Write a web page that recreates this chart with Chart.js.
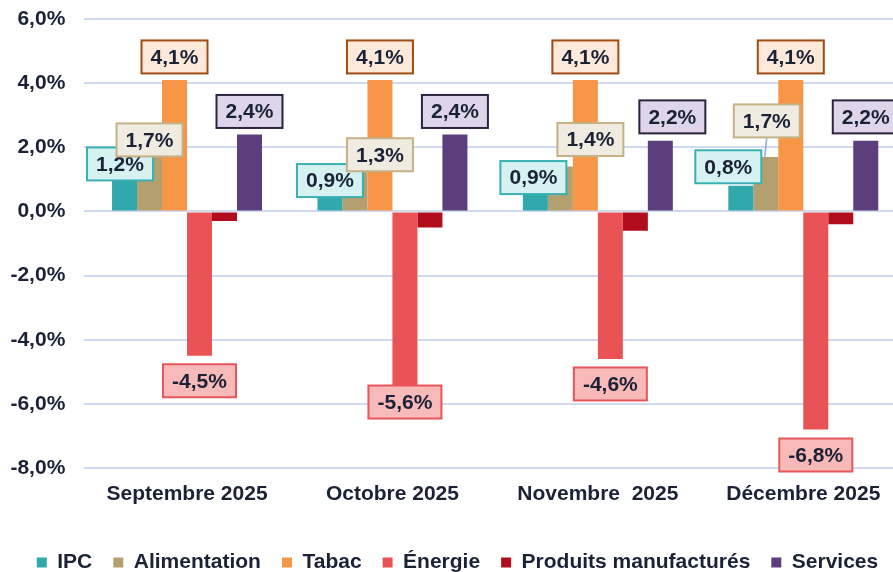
<!DOCTYPE html>
<html>
<head>
<meta charset="utf-8">
<script src="https://cdn.jsdelivr.net/npm/chart.js@4.4.0/dist/chart.umd.min.js"></script>
<style>
html, body { margin: 0; padding: 0; overflow: hidden; background: #FFFFFF; }
#wrap { width: 906px; height: 583px; }
</style>
</head>
<body>
<div id="wrap"><canvas id="inflationChart" width="906" height="583"></canvas></div>
<script>
const FONT_COLOR = '#1B2236';
const GRID_COLOR = '#CFD9F0';
const FONT_FAMILY = '"Liberation Sans", Arial, sans-serif';

// données
const months = ['Septembre 2025', 'Octobre 2025', 'Novembre  2025', 'Décembre 2025'];
const seriesNames = ['IPC', 'Alimentation', 'Tabac', 'Énergie', 'Produits manufacturés', 'Services'];
const ipc = [1.2, 0.9, 0.9, 0.8];
const alimentation = [1.7, 1.3, 1.4, 1.7];
const tabac = [4.1, 4.1, 4.1, 4.1];
const energie = [-4.5, -5.6, -4.6, -6.8];
const produits = [-0.3, -0.5, -0.6, -0.4];
const services = [2.4, 2.4, 2.2, 2.2];
const yTicks = [-8, -6, -4, -2, 0, 2, 4, 6];

// styles des séries
const barColors = ['#31A8AC', '#B4A06E', '#F79646', '#EA5355', '#B00C1C', '#5B3E7B'];
const labelFills = ['#D5F1F2', '#EFEBE1', '#FDE9DA', '#F8B9B9', null, '#DED5EA'];
const labelBorders = ['#3BB0B2', '#C4B185', '#9E4C14', '#E8555A', null, '#2D2340'];

// décalage (dx, dy) du centre de l'étiquette par rapport au bout de la barre
const labelOffsets = [
    [[-4.5, -9], [0, -2], [-2, -5], [-12.5, -19]],
    [[0, -17], [25, -15], [30, -27], [1, -36]],
    [[0, -23], [0, -23], [0, -23], [0, -23]],
    [[0, 25], [0, 11], [0, 25], [0, 25.5]],
    null,
    [[0, -23], [0, -23], [12, -24], [0, -24]]
];

function formatPct(v) {
    return v.toFixed(1).replace('.', ',') + '%';
}

const boxLabels = {
    id: 'boxLabels',
    afterDatasetsDraw(chart) {
        const ctx = chart.ctx;
        ctx.save();
        ctx.font = 'bold 21px ' + FONT_FAMILY;
        ctx.textAlign = 'center';
        ctx.textBaseline = 'middle';
        chart.data.datasets.forEach((ds, i) => {
            const offsets = labelOffsets[i];
            if (!offsets) return;
            chart.getDatasetMeta(i).data.forEach((bar, j) => {
                const text = formatPct(ds.data[j]);
                const w = Math.round(ctx.measureText(text).width + 18);
                const h = 33;
                const cx = bar.x + offsets[j][0];
                const cy = bar.y + offsets[j][1];
                // ligne de rappel quand l'étiquette est éloignée
                if (ds.data[j] > 0 && bar.y - (cy + h / 2) > 15) {
                    ctx.beginPath();
                    ctx.moveTo(cx, cy + h / 2);
                    ctx.lineTo(bar.x - 1, bar.y);
                    ctx.strokeStyle = '#8EAADB';
                    ctx.lineWidth = 1.5;
                    ctx.stroke();
                }
                ctx.fillStyle = labelFills[i];
                ctx.fillRect(cx - w / 2, cy - h / 2, w, h);
                ctx.lineWidth = 2;
                ctx.strokeStyle = labelBorders[i];
                ctx.strokeRect(cx - w / 2, cy - h / 2, w, h);
                ctx.fillStyle = FONT_COLOR;
                ctx.fillText(text, cx, cy + 1);
            });
        });
        ctx.restore();
    }
};

const seriesValues = [ipc, alimentation, tabac, energie, produits, services];

new Chart(document.getElementById('inflationChart'), {
    type: 'bar',
    data: {
        labels: months,
        datasets: seriesNames.map((name, i) => ({
            label: name,
            data: seriesValues[i],
            backgroundColor: barColors[i],
            borderWidth: 0,
            categoryPercentage: 0.73,
            barPercentage: 1
        }))
    },
    options: {
        responsive: false,
        animation: false,
        layout: { padding: { top: 8, left: 9, right: 0, bottom: 0 } },
        scales: {
            x: {
                grid: { display: false },
                border: { display: false },
                ticks: {
                    color: FONT_COLOR,
                    padding: 6,
                    font: { family: FONT_FAMILY, size: 21, weight: 'bold' }
                },
                afterFit: s => { s.height = 63; }
            },
            y: {
                min: -8,
                max: 6,
                afterBuildTicks: axis => { axis.ticks = yTicks.map(v => ({ value: v })); },
                grid: { color: GRID_COLOR, lineWidth: 2, drawTicks: false },
                border: { display: false },
                ticks: {
                    color: FONT_COLOR,
                    padding: 19,
                    font: { family: FONT_FAMILY, size: 21, weight: 'bold' },
                    callback: v => formatPct(v)
                },
                afterFit: s => {
                    s.width = 75.3;
                    s.paddingTop = 19;
                    s.paddingBottom = 19;
                }
            }
        },
        plugins: {
            legend: {
                position: 'bottom',
                labels: {
                    color: FONT_COLOR,
                    boxWidth: 10,
                    boxHeight: 10,
                    padding: 21,
                    font: { family: FONT_FAMILY, size: 21, weight: 'bold' }
                }
            },
            tooltip: { enabled: false },
            title: { display: false }
        }
    },
    plugins: [boxLabels]
});
</script>
</body>
</html>
